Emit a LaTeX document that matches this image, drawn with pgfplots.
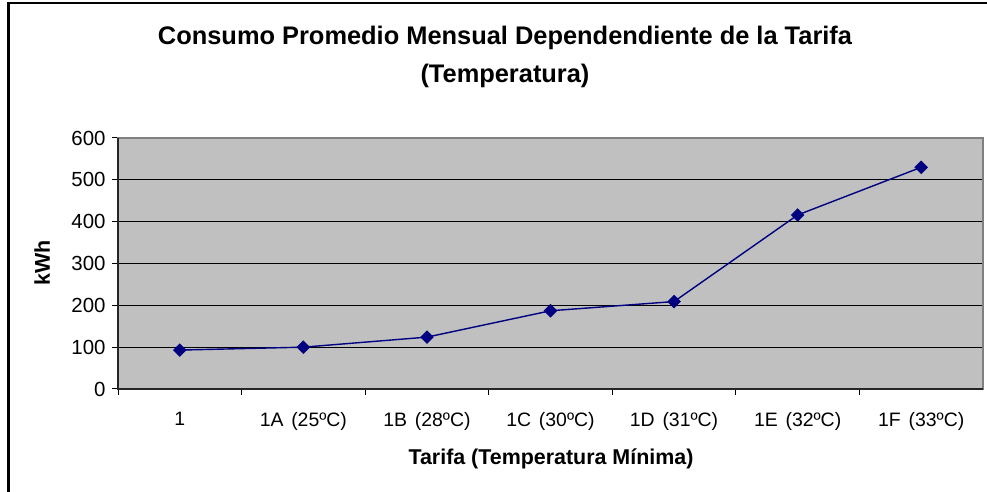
\documentclass[border=0pt]{standalone}
\usepackage{fontspec}
\setmainfont{Liberation Sans}
\usepackage{pgfplots}
\pgfplotsset{compat=1.18}
\definecolor{plotgray}{HTML}{C0C0C0}
\definecolor{framegray}{HTML}{808080}
\definecolor{navyline}{HTML}{000080}
\begin{document}
\begin{tikzpicture}[x=1bp,y=1bp]
\path[use as bounding box] (0,0) rectangle (987,492);
\fill[white] (0,0) rectangle (987,492);
\draw[black,line width=2.5bp] (8.5,0) -- (8.5,489) -- (987,489);
\begin{axis}[
  at={(118bp,103bp)}, anchor=south west,
  width=865bp, height=251bp, scale only axis,
  xmin=-0.5, xmax=6.5, ymin=0, ymax=600,
  xtick={0,...,6},
  xticklabels={1,1A\hspace{0.4em}(25ºC),1B\hspace{0.4em}(28ºC),1C\hspace{0.4em}(30ºC),1D\hspace{0.4em}(31ºC),1E\hspace{0.4em}(32ºC),1F\hspace{0.4em}(33ºC)},
  minor xtick={-0.5,0.5,...,5.5},
  ytick={0,100,...,600},
  tick pos=left, tick align=outside,
  major tick length=6bp, minor tick length=6bp,
  major x tick style={draw=none},
  minor x tick style={black,line width=1bp},
  major y tick style={black,line width=1bp},
  ymajorgrids, major grid style={black,line width=0.9bp},
  axis background/.style={fill=plotgray},
  axis line style={framegray,line width=1.8bp},
  /pgf/number format/assume math mode=true,
  yticklabel style={font=\fontsize{20.5}{24}\selectfont, black, xshift=-3bp},
  xticklabel style={font=\fontsize{19.5}{24}\selectfont, black, yshift=-14bp},
  clip=false,
]
\addplot[navyline, line width=1.4bp, mark=square*, mark size=4.1bp, mark options={fill=navyline,draw=navyline,rotate=45}]
  coordinates {(0,93) (1,100) (2,124) (3,187) (4,209) (5,416) (6,530)};
\draw[black!85,line width=1.2bp] (rel axis cs:0,1) -- (rel axis cs:0,0) -- (rel axis cs:1,0);
\end{axis}
\node[font=\bfseries\fontsize{25.5}{38}\selectfont, align=center] at (505,435) {Consumo Promedio Mensual Dependendiente de la Tarifa\\(Temperatura)};
\node[font=\bfseries\fontsize{21.5}{24}\selectfont] at (551,33) {Tarifa (Temperatura Mínima)};
\node[font=\bfseries\fontsize{21.5}{24}\selectfont, rotate=90] at (42,229) {kWh};
\end{tikzpicture}
\end{document}
